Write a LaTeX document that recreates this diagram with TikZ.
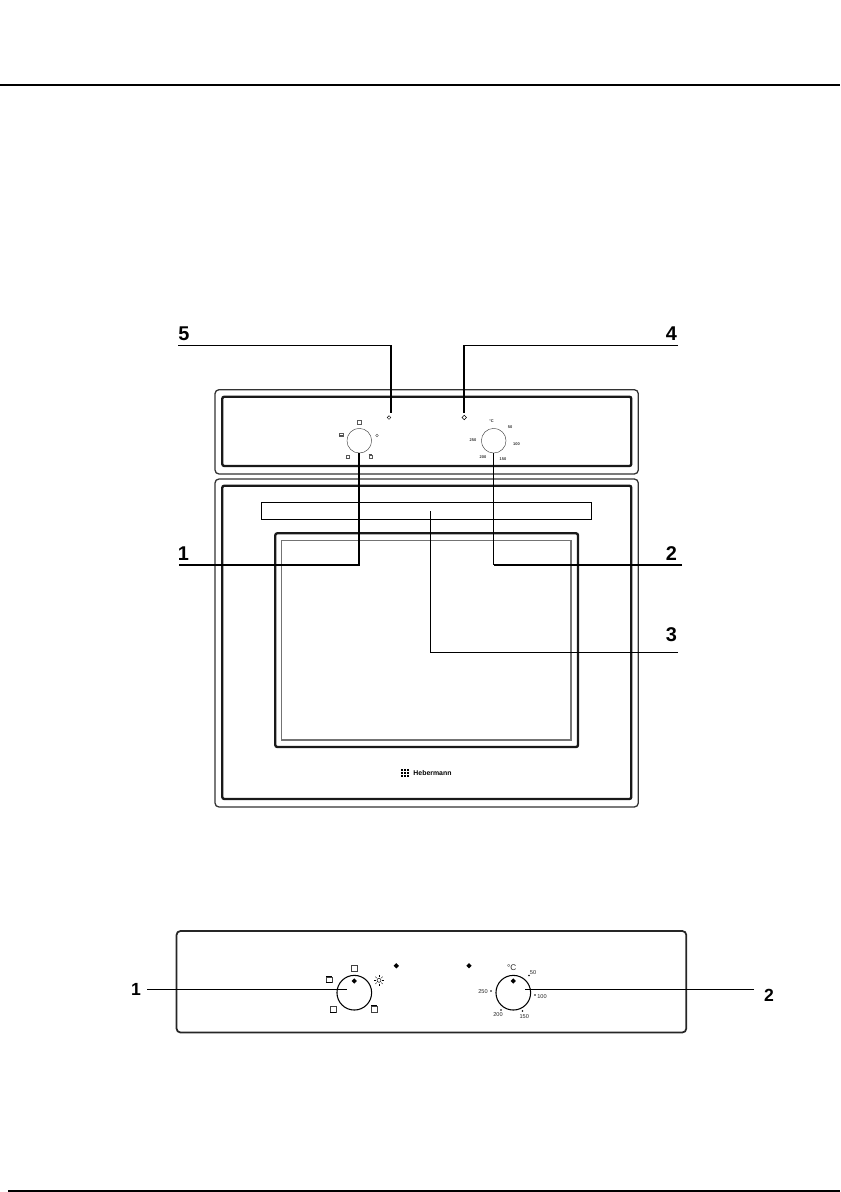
\documentclass[tikz,border=0pt]{standalone}
\usepackage{fontspec}
\setmainfont{Liberation Sans}
\usetikzlibrary{shapes.geometric}

\begin{document}
\begin{tikzpicture}[
        x=0.3mm, y=-0.3mm, thick,
        outerline/.style={line width=1.1pt, black!80, rounded corners=1.2mm},
        innerline/.style={line width=2pt, black!90, rounded corners=0.6mm},
        paleline/.style={line width=1.3pt, black!55},
        leader/.style={line width=0.85pt},
        leaderthick/.style={line width=1.7pt},
        callout/.style={font=\fontsize{17}{18}\selectfont\bfseries, inner sep=0pt},
        knob/.style={circle, draw, inner sep=0pt, line width=0.35pt, black!80, minimum size=7.4mm},
        bigknob/.style={circle, draw, inner sep=0pt, line width=0.9pt, minimum size=10.4mm},
        lamp/.style={circle, draw, inner sep=0pt, line width=0.4pt, minimum size=1.1mm},
        lampdiamond/.style={diamond, draw, inner sep=0pt, line width=0.4pt, minimum size=1.4mm},
        bigdot/.style={diamond, fill, inner sep=0pt, minimum size=1.7mm},
        icon/.style={draw, inner sep=0pt, line width=0.25pt, black!65, minimum size=1.1mm},
        bigicon/.style={draw, inner sep=0pt, line width=0.3pt, black!75, minimum size=1.8mm},
        tick/.style={font=\fontsize{3.4}{4}\selectfont\bfseries, inner sep=0pt, black!80},
        bigtick/.style={font=\fontsize{4.8}{5}\selectfont, inner sep=0pt, black!85},
        tickdot/.style={circle, fill, inner sep=0pt, minimum size=0.5mm},
    ]
    \useasboundingbox (0, 0) rectangle (840, 1192);

    % page rules
    \draw[line width=1.9pt] (0, 85.2) -- (840, 85.2);
    \draw[line width=1.7pt] (8, 1190.5) -- (840, 1190.5);

    % control panel of the oven
    \draw[outerline] (215, 389.7) rectangle (638.3, 474);
    \draw[innerline] (222.3, 396.7) rectangle (631.3, 466);

    % door
    \draw[outerline] (215, 479) rectangle (638.3, 807);
    \draw[innerline] (222.3, 485.7) rectangle (631.3, 799);
    \draw[line width=0.85pt] (261.3, 502.3) rectangle (591.7, 519.3);
    \draw[innerline] (275.3, 533.3) rectangle (578, 747);
    \draw[paleline] (281.7, 540.3) rectangle (571, 740);

    % logo
    \foreach \x in {402, 405, 408}
        \foreach \y in {770, 773, 776}
            \fill (\x-1, \y-1) rectangle (\x+1, \y+1);
    \node[anchor=west, inner sep=0pt, font=\fontsize{5.9}{6}\selectfont\bfseries] (logotext) at (413, 773.2) {Hebermann};

    % knobs and lamps
    \node[knob] (knobmode) at (359.3, 440.7) {};
    \node[knob] (knobtemp) at (493.7, 440.7) {};
    \node[lamp] (lampleft) at (389, 417.5) {};
    \node[lampdiamond] (lampright) at (464.2, 417.5) {};

    % symbols round the left knob
    \node[icon] (iconoff) at (359, 422) {};
    \node[icon, minimum height=0.9mm] (icontop) at (341, 435) {};
    \node[circle, draw, inner sep=0pt, line width=0.3pt, black!70, minimum size=0.8mm] (iconlight) at (377, 435.5) {};
    \node[icon] (iconbottom) at (347.5, 456.5) {};
    \node[icon] (iconboth) at (370.5, 456.5) {};
    \draw[line width=0.4pt, black!70] (iconbottom.south west) -- (iconbottom.south east);
    \draw[line width=0.4pt, black!70] (iconboth.north west) -- (iconboth.north east);
    \draw[line width=0.4pt, black!70] (icontop.west) -- (icontop.east);

    % scale round the right knob
    \node[tick] (tickunit) at (491.5, 421.5) {°C};
    \node[tick] (tickfifty) at (510, 427) {50};
    \node[tick] (tickhundred) at (516.5, 444.5) {100};
    \node[tick] (tickonefifty) at (503, 459.5) {150};
    \node[tick] (ticktwohundred) at (483, 457.5) {200};
    \node[tick] (ticktwofifty) at (473, 440.5) {250};

    % callouts of the front view
    \node[callout] (labelfive) at (184, 333.5) {5};
    \node[callout] (labelfour) at (671.5, 333.5) {4};
    \node[callout] (labelone) at (183.5, 554) {1};
    \node[callout] (labeltwo) at (671.5, 554) {2};
    \node[callout] (labelthree) at (671.5, 635) {3};
    \coordinate (startfive) at (178, 345.3);
    \coordinate (cornerfive) at (390.7, 345.3);
    \coordinate (endfive) at (390.7, 412.7);
    \coordinate (startfour) at (678, 345.3);
    \coordinate (cornerfour) at (463.7, 345.3);
    \coordinate (endfour) at (463.7, 412.7);
    \coordinate (startone) at (179, 564.7);
    \coordinate (starttwo) at (682, 564.7);
    \coordinate (startthree) at (678, 652);
    \coordinate (endthree) at (430, 510.8);

    \draw[leader] (startfive) -- (cornerfive);
    \draw[leaderthick] (cornerfive) -- (endfive);
    \draw[leader] (startfour) -- (cornerfour);
    \draw[leaderthick] (cornerfour) -- (endfour);
    \draw[leaderthick] (startone) -| (knobmode.south);
    \draw[leaderthick] (starttwo) -- (knobtemp.south |- starttwo);
    \draw[leader] (knobtemp.south |- starttwo) -- (knobtemp.south);
    \draw[leader] (startthree) -| (endthree);

    % panel drawn on its own
    \draw[line width=1.5pt, black!85, rounded corners=1.2mm] (176.5, 931) rectangle (686.3, 1032.5);
    \node[bigknob] (knobmodeb) at (354.3, 992.7) {};
    \node[bigknob] (knobtempb) at (513.3, 992.7) {};
    \node[bigdot] (markmode) at (354.3, 981) {};
    \node[bigdot] (marktemp) at (513.3, 981) {};
    \node[bigdot] (lampleftb) at (396.3, 965.8) {};
    \node[bigdot] (lamprightb) at (469, 965.8) {};

    \node[bigicon] (iconoffb) at (354.3, 968) {};
    \node[bigicon, minimum height=1.7mm] (icontopb) at (329, 979.5) {};
    \node[bigicon] (iconbottomb) at (333.3, 1009) {};
    \node[bigicon] (iconbothb) at (374.3, 1009) {};
    \draw[line width=0.7pt] (icontopb.north west) -- (icontopb.north east);
    \draw[line width=0.7pt] (icontopb.south west) -- (icontopb.south east);
    \draw[line width=0.7pt] (iconbottomb.south west) -- (iconbottomb.south east);
    \draw[line width=0.7pt] (iconbothb.north west) -- (iconbothb.north east);
    \node[circle, draw, inner sep=0pt, line width=0.4pt, minimum size=1.2mm] (iconlightb) at (379, 980.3) {};
    \foreach \a in {0, 45, ..., 315}
        \draw[line width=0.3pt] (iconlightb) ++(\a:3.2) -- ++(\a:2);

    \node[bigtick] (tickunitb) at (511.8, 968) {\fontsize{7}{8}\selectfont °C};
    \node[bigtick] (tickfiftyb) at (533, 972.3) {50};
    \node[bigtick] (tickhundredb) at (542, 996.8) {100};
    \node[bigtick] (tickonefiftyb) at (524.3, 1016.5) {150};
    \node[bigtick] (ticktwohundredb) at (498, 1014.3) {200};
    \node[bigtick] (ticktwofiftyb) at (483, 991.3) {250};
    \foreach \x/\y in {529/975.5, 535/995, 522.5/1011, 501/1010, 491/991}
        \node[tickdot] at (\x, \y) {};

    % callouts of the panel
    \node[callout, font=\fontsize{15}{16}\selectfont\bfseries] (labeloneb) at (136, 989.5) {1};
    \node[callout, font=\fontsize{15}{16}\selectfont\bfseries] (labeltwob) at (769, 995.5) {2};
    \coordinate (startoneb) at (147, 989.5);
    \coordinate (endoneb) at (346.7, 989.5);
    \coordinate (starttwob) at (754, 989.5);
    \coordinate (endtwob) at (525, 989.5);
    \draw[leader] (startoneb) -- (endoneb);
    \draw[leader] (starttwob) -- (endtwob);
\end{tikzpicture}
\end{document}
